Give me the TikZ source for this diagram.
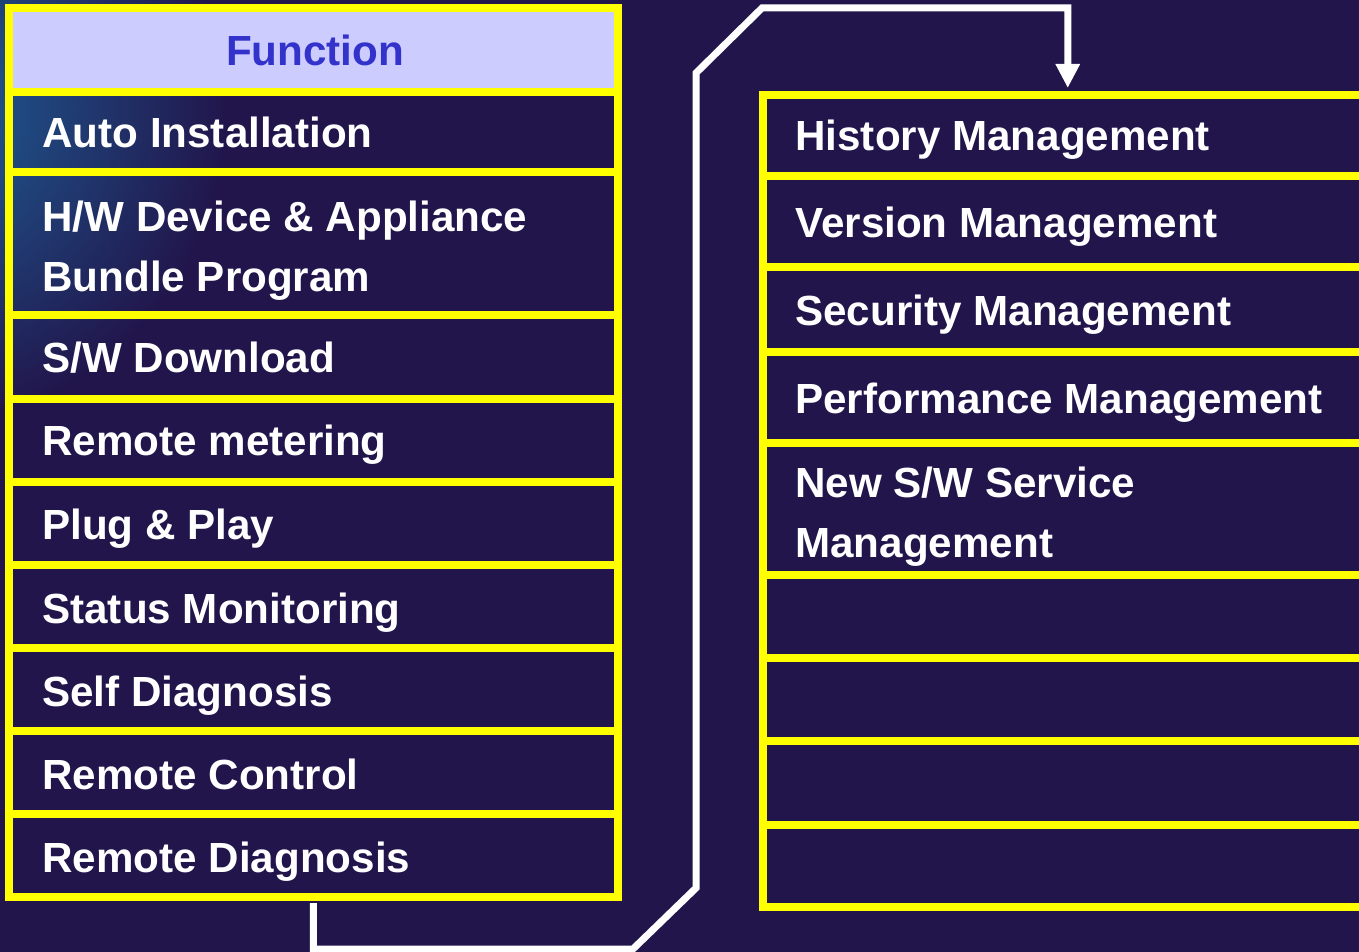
\documentclass[tikz,border=0pt]{standalone}
\usepackage{fontspec}
\setmainfont{Liberation Sans}
\usetikzlibrary{calc, arrows.meta}
\definecolor{bgnavy}{RGB}{33,21,75}
\definecolor{glowblue}{RGB}{30,100,155}
\definecolor{cellyellow}{RGB}{255,255,0}
\definecolor{headfill}{RGB}{204,204,255}
\definecolor{headtext}{RGB}{51,51,204}
\tikzset{
  cell/.style={draw=cellyellow, line width=0.16cm, inner sep=0pt, outer sep=0pt, minimum width=12.19cm},
  lbl/.style={text=white, font=\bfseries\fontsize{24}{34.6}\selectfont, inner sep=0pt, align=left, anchor=base west},
  link/.style={draw=white, line width=0.14cm}
}
\begin{document}
\begin{tikzpicture}[x=0.02cm, y=-0.02cm]
                \useasboundingbox (0,0) rectangle (1359,952);
                \clip (0,0) rectangle (1359,952);
                % Nền
                \fill[bgnavy] (0,0) rectangle (1359,952);
                \shade[inner color=glowblue, outer color=bgnavy] (-90,110) circle (320);
                % Bảng trái
                \node[cell, fill=headfill, minimum height=1.68cm] (head) at (313.25,50) {};
                \node[text=headtext, font=\bfseries\fontsize{24}{29}\selectfont, inner sep=0pt, anchor=base] (fn) at (315,66) {Function};
                \foreach \a/\b/\n in {92/172/l1, 172/315/l2, 315/399/l3, 399/482/l4, 482/565/l5, 565/648/l6, 648/731/l7, 731/814/l8, 814/897/l9}
                    \node[cell, minimum height={(\b-\a)*0.02cm}] (\n) at ({313.25},{(\a+\b)/2}) {};
                \node[lbl] (tAuto) at (42,148) {Auto Installation};
                \node[lbl] (tDevice) at (42,292) {H/W Device \& Appliance\\Bundle Program};
                \node[lbl] (tDown) at (42,373) {S/W Download};
                \node[lbl] (tMeter) at (42,456) {Remote metering};
                \node[lbl] (tPlug) at (42,540) {Plug \& Play};
                \node[lbl] (tStatus) at (42,623) {Status Monitoring};
                \node[lbl] (tSelf) at (42,706) {Self Diagnosis};
                \node[lbl] (tControl) at (42,789) {Remote Control};
                \node[lbl] (tDiag) at (42,872) {Remote Diagnosis};
                % Bảng phải
                \foreach \a/\b/\n in {95.5/176/r1, 176/267/r2, 267/352/r3, 352/443/r4, 443/575/r5, 575/658/r6, 658/741/r7, 741/825/r8, 825/907/r9}
                    \node[cell, minimum height={(\b-\a)*0.02cm}] (\n) at ({1067.75},{(\a+\b)/2}) {};
                \node[lbl] (tHist) at (795,151) {History Management};
                \node[lbl] (tVer) at (795,238) {Version Management};
                \node[lbl] (tSec) at (795,326) {Security Management};
                \node[lbl] (tPerf) at (795,414) {Performance Management};
                \node[lbl] (tNew) at (795,558) {New S/W Service\\Management};
                % Mũi tên nối
                \coordinate (k1) at (633,949);
                \coordinate (k2) at (696,888);
                \coordinate (k3) at (696,73);
                \coordinate (k4) at (762,8);
                \coordinate (k5) at (1067.75,8);
                \draw[link, -{Triangle[width=0.46cm, length=0.48cm]}] ($(l9.south)+(0,6)$) -- ($(l9.south)+(0,52)$) -- (k1) -- (k2) -- (k3) -- (k4) -- (k5) -- ($(r1.north)+(0,-7.5)$);
\end{tikzpicture}
\end{document}
